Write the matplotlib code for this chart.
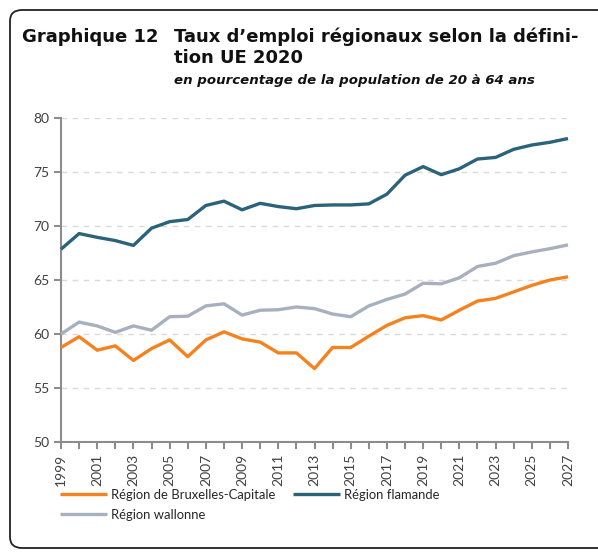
import matplotlib
matplotlib.use("Agg")
import matplotlib.pyplot as plt
from matplotlib.patches import FancyBboxPatch

years = list(range(1999, 2028))
bruxelles = [58.75, 59.75, 58.5, 58.9, 57.55, 58.65, 59.45, 57.9, 59.45, 60.2,
             59.55, 59.25, 58.25, 58.25, 56.8, 58.75, 58.75, 59.8, 60.8, 61.5,
             61.7, 61.3, 62.2, 63.05, 63.3, 63.9, 64.5, 65.0, 65.3]
flandre = [67.85, 69.3, 68.95, 68.65, 68.2, 69.8, 70.4, 70.6, 71.9, 72.3,
           71.5, 72.1, 71.8, 71.6, 71.9, 71.95, 71.95, 72.05, 72.95, 74.7,
           75.5, 74.75, 75.3, 76.2, 76.35, 77.1, 77.5, 77.75, 78.1]
wallonie = [60.0, 61.1, 60.75, 60.15, 60.75, 60.35, 61.6, 61.65, 62.6, 62.8,
            61.75, 62.2, 62.25, 62.5, 62.35, 61.85, 61.6, 62.6, 63.2, 63.7,
            64.7, 64.65, 65.2, 66.25, 66.55, 67.25, 67.6, 67.9, 68.25]
labels = ["Région de Bruxelles-Capitale", "Région flamande", "Région wallonne"]
colors = ["#F5821F", "#2B6379", "#A7B0BD"]
yticks = [50, 55, 60, 65, 70, 75, 80]

plt.rcParams['font.family'] = ['Lato', 'DejaVu Sans']

fig = plt.figure(figsize=(5.98, 5.53), dpi=100)

# rounded frame around the whole chart
frame = FancyBboxPatch((10 / 598, 5 / 553), 600 / 598, 538 / 553,
                       boxstyle="round,pad=0,rounding_size=0.02",
                       transform=fig.transFigure, fill=False,
                       edgecolor="#222222", linewidth=1.3)
fig.patches.append(frame)

fig.text(22 / 598, 1 - 42 / 553, "Graphique 12", fontsize=13, fontweight="bold",
         family="DejaVu Sans", color="#111111", va="baseline")
fig.text(174 / 598, 1 - 42 / 553, "Taux d\u2019emploi régionaux selon la défini-",
         fontsize=13, fontweight="bold", family="DejaVu Sans", color="#111111",
         va="baseline")
fig.text(174 / 598, 1 - 63 / 553, "tion UE 2020", fontsize=13, fontweight="bold",
         family="DejaVu Sans", color="#111111", va="baseline")
fig.text(174 / 598, 1 - 84 / 553, "en pourcentage de la population de 20 à 64 ans",
         fontsize=9.6, fontweight="bold", fontstyle="italic", family="DejaVu Sans",
         color="#111111", va="baseline")

ax = fig.add_axes([61 / 598, 1 - 442 / 553, 507 / 598, 324 / 553])

lines = []
for vals, lab, col in zip([bruxelles, flandre, wallonie], labels, colors):
    ln, = ax.plot(years, vals, color=col, lw=2.4, label=lab, solid_capstyle="butt",
                  clip_on=False, zorder=3)
    lines.append(ln)

ax.set_xlim(1999, 2027)
ax.set_ylim(50, 80)
ax.set_yticks(yticks)
ax.set_xticks(years)
ax.set_xticklabels([str(y) if (y - 1999) % 2 == 0 else "" for y in years],
                   rotation=90)
for g in yticks[1:]:
    ax.axhline(g, color="#D9D9D9", lw=1, ls=(0, (4, 4)), zorder=1)

for s in ["top", "right"]:
    ax.spines[s].set_visible(False)
for s in ["left", "bottom"]:
    ax.spines[s].set_color("#8C8C8C")
    ax.spines[s].set_linewidth(1.5)
ax.tick_params(axis="both", colors="#8C8C8C", width=1.5, length=5,
               labelsize=10, labelcolor="#404040")

# column-wise fill: Bruxelles / wallonne in col 1, flamande in col 2
order = [0, 2, 1]
fig.legend([lines[i] for i in order], [labels[i] for i in order],
           loc="upper left", bbox_to_anchor=(48 / 598, 1 - 477 / 553),
           ncol=2, frameon=False, fontsize=9.4, handlelength=3.6,
           handletextpad=0.3, columnspacing=1.4, labelspacing=0.6,
           labelcolor="#262626")

fig.savefig("out.png", dpi=100)
